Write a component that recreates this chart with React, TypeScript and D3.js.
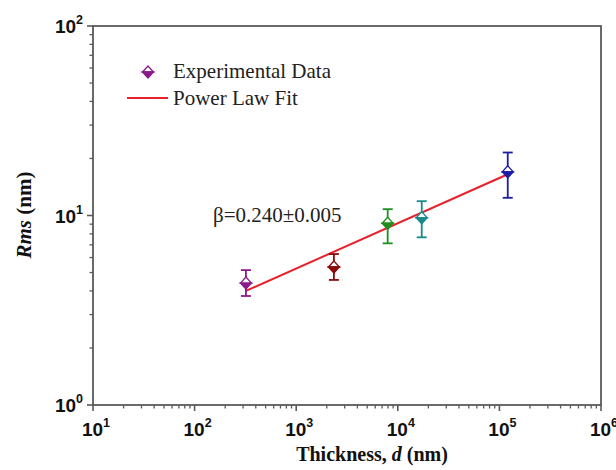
import React from "react";
import * as d3 from "d3";

const thickness = [320, 2350, 7950, 17200, 120800];
const rms = [4.4, 5.35, 9.1, 9.73, 17.0];
const rmsLow = [3.76, 4.57, 7.13, 7.67, 12.4];
const rmsHigh = [5.15, 6.26, 10.8, 11.9, 21.5];
const pointColors = ["#8b1a8b", "#8b0a0a", "#1f8f1f", "#1a8a8a", "#1c1ca6"];
const fitX = [320, 120800];
const fitY = [4.0, 16.5];
const xTickExps = [1, 2, 3, 4, 5, 6];
const yTickExps = [0, 1, 2];
const legendLabels = ["Experimental Data", "Power Law Fit"];
const betaLabel = "β=0.240±0.005";

const W = 616;
const H = 470;
const L = 93, R = 601, T = 26, B = 405;
const axisColor = "#5a5a5a";
const sans = "'Liberation Sans', Arial, sans-serif";
const serif = "'Liberation Serif', 'Times New Roman', serif";

function HalfDiamond({ x, y, color, hw = 5.5, hh = 6 }: { x: number; y: number; color: string; hw?: number; hh?: number }) {
  return (
    <g>
      <path d={`M${x - hw},${y} L${x},${y - hh} L${x + hw},${y} Z`} fill="#fff" stroke={color} strokeWidth={1.3} />
      <path d={`M${x - hw},${y} L${x},${y + hh} L${x + hw},${y} Z`} fill={color} stroke={color} strokeWidth={1.3} />
    </g>
  );
}

export default function App() {
  const x = d3.scaleLog().domain([10, 1e6]).range([L, R]);
  const y = d3.scaleLog().domain([1, 100]).range([B, T]);

  const xMinor: number[] = [];
  for (let e = 1; e < 6; e++) for (let m = 2; m <= 9; m++) xMinor.push(m * Math.pow(10, e));
  const yMinor: number[] = [];
  for (let e = 0; e < 2; e++) for (let m = 2; m <= 9; m++) yMinor.push(m * Math.pow(10, e));

  const line = d3.line<number>().x((_, i) => x(fitX[i])).y((d) => y(d));

  return (
    <svg width={W} height={H} style={{ position: "absolute", left: 0, top: 0, background: "#fff" }}>
      <rect x={0} y={0} width={W} height={H} fill="#fff" />
      <rect x={L} y={T} width={R - L} height={B - T} fill="none" stroke={axisColor} strokeWidth={1.8} />
      {xTickExps.map((e) => (
        <line key={"xm" + e} x1={x(Math.pow(10, e))} x2={x(Math.pow(10, e))} y1={B} y2={B + 6} stroke={axisColor} strokeWidth={1.6} />
      ))}
      {xMinor.map((v, i) => (
        <line key={"xn" + i} x1={x(v)} x2={x(v)} y1={B} y2={B + 3.5} stroke={axisColor} strokeWidth={1.3} />
      ))}
      {yTickExps.map((e) => (
        <line key={"ym" + e} x1={L - 6} x2={L} y1={y(Math.pow(10, e))} y2={y(Math.pow(10, e))} stroke={axisColor} strokeWidth={1.6} />
      ))}
      {yMinor.map((v, i) => (
        <line key={"yn" + i} x1={L - 3.5} x2={L} y1={y(v)} y2={y(v)} stroke={axisColor} strokeWidth={1.3} />
      ))}
      {xTickExps.map((e) => (
        <text key={"xl" + e} x={x(Math.pow(10, e)) + 3} y={436} textAnchor="middle" fontFamily={sans} fontWeight="bold" fontSize={19} fill="#111">
          10<tspan dy={-9} fontSize={12.5}>{e}</tspan>
        </text>
      ))}
      {yTickExps.map((e) => (
        <text key={"yl" + e} x={L - 10} y={y(Math.pow(10, e)) + 7} textAnchor="end" fontFamily={sans} fontWeight="bold" fontSize={19} fill="#111">
          10<tspan dy={-9} fontSize={12.5}>{e}</tspan>
        </text>
      ))}
      <text x={372} y={461} textAnchor="middle" fontFamily={serif} fontWeight="bold" fontSize={20} fill="#111">
        Thickness, <tspan fontStyle="italic">d</tspan> (nm)
      </text>
      <text transform={`translate(31,${215}) rotate(-90)`} textAnchor="middle" fontFamily={serif} fontWeight="bold" fontSize={21} fill="#111">
        <tspan fontStyle="italic">Rms</tspan> (nm)
      </text>
      <path d={line(fitY) || ""} fill="none" stroke="#e8202a" strokeWidth={2} />
      {thickness.map((t, i) => {
        const cx = x(t);
        const c = pointColors[i];
        return (
          <g key={"p" + i}>
            <line x1={cx} x2={cx} y1={y(rmsLow[i])} y2={y(rmsHigh[i])} stroke={c} strokeWidth={1.8} />
            <line x1={cx - 5} x2={cx + 5} y1={y(rmsLow[i])} y2={y(rmsLow[i])} stroke={c} strokeWidth={1.8} />
            <line x1={cx - 5} x2={cx + 5} y1={y(rmsHigh[i])} y2={y(rmsHigh[i])} stroke={c} strokeWidth={1.8} />
            <HalfDiamond x={cx} y={y(rms[i])} color={c} />
          </g>
        );
      })}
      <HalfDiamond x={148} y={72} color="#8b1a8b" />
      <text x={173} y={78} fontFamily={serif} fontSize={21} fill="#222">{legendLabels[0]}</text>
      <line x1={127} x2={168} y1={98} y2={98} stroke="#e8202a" strokeWidth={2} />
      <text x={173} y={105} fontFamily={serif} fontSize={21} fill="#222">{legendLabels[1]}</text>
      <text x={213} y={222} fontFamily={serif} fontSize={21} fill="#222">{betaLabel}</text>
    </svg>
  );
}
